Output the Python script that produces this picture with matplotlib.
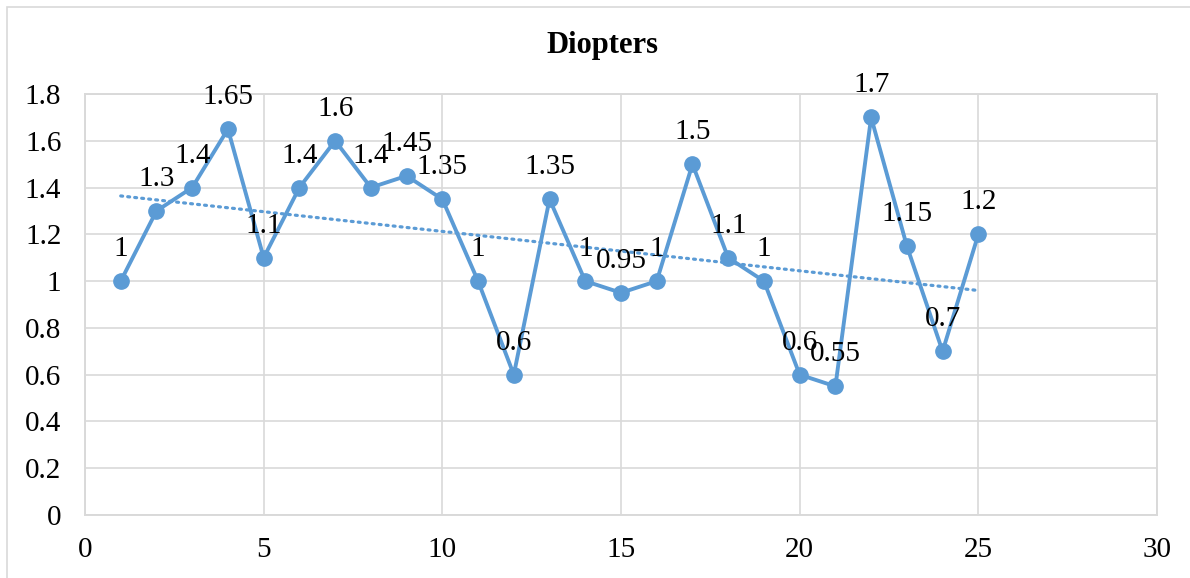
import matplotlib.pyplot as plt
import numpy as np
from matplotlib.patches import Rectangle

#------------------------------------------------
# data
x = list(range(1, 26))
diopters = [1, 1.3, 1.4, 1.65, 1.1, 1.4, 1.6, 1.4, 1.45, 1.35,
            1, 0.6, 1.35, 1, 0.95, 1, 1.5, 1.1, 1, 0.6,
            0.55, 1.7, 1.15, 0.7, 1.2]
labels = ['1', '1.3', '1.4', '1.65', '1.1', '1.4', '1.6', '1.4', '1.45', '1.35',
          '1', '0.6', '1.35', '1', '0.95', '1', '1.5', '1.1', '1', '0.6',
          '0.55', '1.7', '1.15', '0.7', '1.2']
x_ticks = [0, 5, 10, 15, 20, 25, 30]
y_ticks = [0, 0.2, 0.4, 0.6, 0.8, 1, 1.2, 1.4, 1.6, 1.8]
y_ticklabels = ['0', '0.2', '0.4', '0.6', '0.8', '1', '1.2', '1.4', '1.6', '1.8']

blue = '#5B9BD5'
grid = '#D9D9D9'

plt.rcParams['font.family'] = ['Liberation Serif', 'DejaVu Serif']

fig = plt.figure(figsize=(11.9, 5.78), dpi=100)
ax = fig.add_axes([85/1190, 1 - 515/578, (1157-85)/1190, (515-94)/578])

# outer chart border (right and bottom edges fall outside the picture)
fig.patches.append(Rectangle((7/1190, -0.2), 1.2, 1.2 - 7/578,
                             transform=fig.transFigure, fill=False,
                             ec=grid, lw=1.2))

ax.plot(x, diopters, color=blue, lw=2.8, marker='o', ms=11, zorder=3)

# linear trendline
k, b = np.polyfit(x, diopters, 1)
xt = np.array([x[0], x[-1]])
ax.plot(xt, k*xt + b, color=blue, lw=2.3, linestyle=(0, (0.6, 1.6)),
        dash_capstyle='round', zorder=2)

for xi, yi, s in zip(x, diopters, labels):
    ax.annotate(s, (xi, yi), xytext=(0, 23), textcoords='offset points',
                ha='center', va='center', fontsize=21, zorder=4)

ax.set_xlim(0, 30)
ax.set_ylim(0, 1.8)
ax.set_xticks(x_ticks)
ax.set_yticks(y_ticks)
ax.set_yticklabels(y_ticklabels)
ax.tick_params(length=0, labelsize=21)
ax.tick_params(axis='y', pad=17)
ax.tick_params(axis='x', pad=16)
ax.grid(True, color=grid, lw=1.2)
ax.set_axisbelow(True)
for sp in ax.spines.values():
    sp.set_color(grid)
    sp.set_linewidth(1.4)

fig.text(602/1190, 1 - 46/578, 'Diopters', ha='center', va='center',
         fontsize=22, fontweight='bold')

fig.savefig('out.png', dpi=100)
